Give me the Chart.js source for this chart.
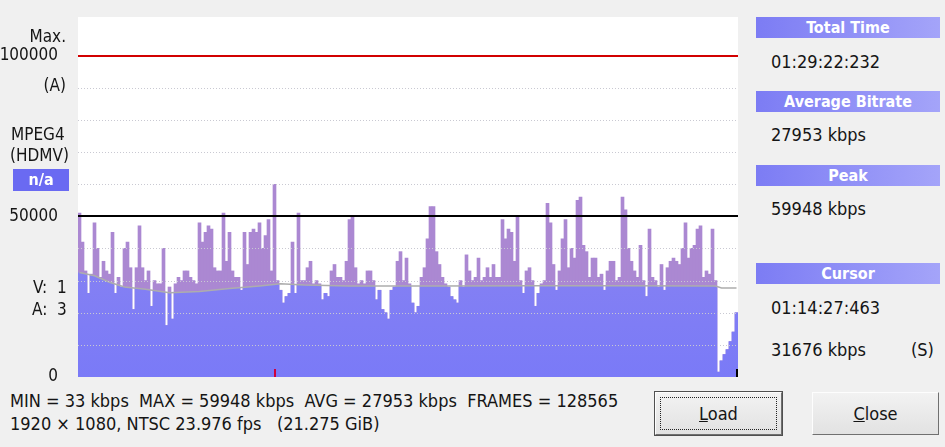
<!DOCTYPE html>
<html lang="en">
  <head>
    <title>Bitrate Viewer</title>
    <meta charset="utf-8" />
    <script src="https://cdn.jsdelivr.net/npm/chart.js"></script>
    <style>
      body {
        margin: 0;
        width: 945px;
        height: 447px;
        overflow: hidden;
        background: #f0f0f0;
        font-family: "DejaVu Sans Condensed", "DejaVu Sans", sans-serif;
        color: #151515;
      }
      .chart-box {
        position: absolute;
        left: 0;
        top: 0;
        width: 740px;
        height: 390px;
      }
      .lbl {
        position: absolute;
        font-size: 17px;
        line-height: 20px;
        white-space: pre;
      }
      .rp {
        font-size: 18px;
      }
      .r {
        text-align: right;
        right: 879px;
      }
      .na {
        position: absolute;
        left: 13px;
        top: 169px;
        width: 56px;
        height: 22px;
        background: #6a6af2;
        color: #fff;
        font-weight: bold;
        font-size: 16px;
        line-height: 22px;
        text-align: center;
      }
      .hdr {
        position: absolute;
        left: 756px;
        width: 184px;
        height: 21px;
        background: linear-gradient(to right, #7c7cf4, #a4a4f9);
        color: #fff;
        font-weight: bold;
        font-size: 16px;
        line-height: 21px;
        text-align: center;
      }
      .btn {
        position: absolute;
        top: 392px;
        width: 125px;
        height: 41px;
        background: linear-gradient(#f2f2f2, #e2e2e2);
        border: 1px solid;
        border-color: #fdfdfd #707070 #707070 #fdfdfd;
        font-size: 18px;
        line-height: 41px;
        text-align: center;
      }
      .btn.def {
        box-shadow: 0 0 0 1px #505050;
      }
      .btn .focus {
        position: absolute;
        left: 4px;
        top: 4px;
        right: 4px;
        bottom: 4px;
        border: 1px dotted #222;
      }
      .foot {
        position: absolute;
        left: 10px;
        font-size: 18px;
        line-height: 22px;
        white-space: pre;
      }
    </style>
  </head>
  <body>
    <div class="chart-box"><canvas id="rate"></canvas></div>

    <!-- left side labels -->
    <div class="lbl r" style="top: 26px">Max.</div>
    <div class="lbl r" style="top: 75px">(A)</div>
    <div class="lbl" style="left: 11px; top: 124px">MPEG4</div>
    <div class="lbl" style="left: 10px; top: 145px">(HDMV)</div>
    <div class="na">n/a</div>
    <div class="lbl" style="left: 33px; top: 277px">V:  1</div>
    <div class="lbl" style="left: 32px; top: 299px">A:  3</div>

    <!-- right side panel -->
    <div class="hdr" style="top: 17px">Total Time</div>
    <div class="lbl rp" style="left: 771px; top: 52px">01:29:22:232</div>
    <div class="hdr" style="top: 91px">Average Bitrate</div>
    <div class="lbl rp" style="left: 771px; top: 125px">27953 kbps</div>
    <div class="hdr" style="top: 165px">Peak</div>
    <div class="lbl rp" style="left: 771px; top: 199px">59948 kbps</div>
    <div class="hdr" style="top: 263px">Cursor</div>
    <div class="lbl rp" style="left: 771px; top: 298px">01:14:27:463</div>
    <div class="lbl rp" style="left: 771px; top: 340px">31676 kbps</div>
    <div class="lbl rp" style="left: 911px; top: 340px">(S)</div>

    <!-- bottom info + buttons -->
    <div class="foot" style="top: 390px">MIN = 33 kbps  MAX = 59948 kbps  AVG = 27953 kbps  FRAMES = 128565</div>
    <div class="foot" style="top: 413px">1920 × 1080, NTSC 23.976 fps   (21.275 GiB)</div>
    <div class="btn def" style="left: 655px"><span class="focus"></span><u>L</u>oad</div>
    <div class="btn" style="left: 812px"><u>C</u>lose</div>

    <script>
      // bitrate per slice (kbps)
      const bitrate = [
        51000, 42000, 33000, 26000, 32000, 48000, 40000, 31000, 36000, 33000,
        32000, 45000, 26000, 31000, 28000, 40000, 42000, 34000, 21000, 34000,
        47000, 34000, 30000, 33000, 22000, 30000, 29000, 29000, 40000, 16000,
        28000, 18000, 29000, 31000, 30000, 33000, 33000, 31000, 30000, 29000,
        48000, 42000, 45000, 47000, 46000, 34000, 33000, 33000, 51000, 36000,
        45000, 33000, 31000, 31000, 27000, 45000, 35000, 45000, 46000, 45000,
        48000, 40000, 44000, 49000, 33000, 59948, 30000, 27000, 23000, 25000,
        26000, 42000, 26000, 51000, 30000, 30000, 34000, 36000, 29000, 30000,
        29000, 24000, 26000, 25000, 33000, 35000, 31000, 31000, 30000, 36000,
        49000, 50000, 34000, 29000, 30000, 29000, 33000, 33000, 30000, 24000,
        27000, 21000, 20000, 18000, 27000, 28000, 36000, 39000, 30000, 37000,
        29000, 23000, 20000, 22000, 31000, 34000, 43000, 53000, 53000, 39000,
        35000, 31000, 29000, 28000, 25000, 24000, 23000, 30000, 28000, 38000,
        33000, 30000, 31000, 37000, 30000, 31000, 34000, 31000, 35000, 31000,
        31000, 49000, 43000, 46000, 45000, 36000, 50000, 30000, 26000, 33000,
        34000, 30000, 22000, 26000, 29000, 30000, 54000, 48000, 35000, 27000,
        33000, 43000, 49000, 34000, 40000, 37000, 55000, 56000, 41000, 39000,
        31000, 37000, 37000, 31000, 32000, 27000, 33000, 36000, 36000, 30000,
        31000, 56000, 52000, 40000, 36000, 33000, 31000, 41000, 30000, 25000,
        46000, 31000, 30000, 28000, 35000, 27000, 34000, 36000, 37000, 36000,
        35000, 40000, 48000, 37000, 40000, 41000, 46000, 47000, 31000, 33000,
        32000, 46000, 30000, 1500, 5000, 7000, 8500, 11000, 14000, 20000,
      ];
      const slices = bitrate.map((v, i) => i);

      // running average line (gray), only where it was read
      const avgAt = [0, 5, 10, 15, 22, 30, 40, 50, 60, 67, 75, 90, 120, 150, 180, 212, 214, 219];
      const avgKbps = [
        32500, 31500, 29500, 28000, 27300, 26200, 26600, 27500, 28300, 29000,
        28600, 28300, 28300, 28400, 28400, 28300, 27700, 27700,
      ];

      // y axis: dotted grid every 10000, labels only on three of them
      const yTicks = [0, 10000, 20000, 30000, 40000, 50000, 60000, 70000, 80000, 90000, 100000];
      const yLabels = [0, 50000, 100000];
      const refLines = [100000, 50000];
      const cursorSlice = 65;

      const refColors = { 100000: "#d20000", 50000: "#000000" };

      // white plot background, grid over the bars, solid max/50000 lines, cursor marks
      const decor = {
        id: "decor",
        beforeDraw(chart) {
          const { ctx, chartArea: a } = chart;
          ctx.save();
          ctx.fillStyle = "#ffffff";
          ctx.fillRect(a.left, a.top, a.right - a.left, a.bottom - a.top);
          ctx.restore();
        },
        // blue part of the bars only below the average line
        beforeDatasetDraw(chart, args) {
          if (args.index !== 2) return;
          const { ctx, chartArea: a } = chart;
          const pts = chart.getDatasetMeta(0).data;
          ctx.save();
          ctx.beginPath();
          ctx.moveTo(a.left, a.bottom);
          ctx.lineTo(a.left, pts[0].y);
          pts.forEach((p) => ctx.lineTo(p.x, p.y));
          ctx.lineTo(a.right, pts[pts.length - 1].y);
          ctx.lineTo(a.right, a.bottom);
          ctx.closePath();
          ctx.clip();
        },
        afterDatasetDraw(chart, args) {
          if (args.index === 2) chart.ctx.restore();
        },
        afterDatasetsDraw(chart) {
          const { ctx, chartArea: a, scales } = chart;
          ctx.save();
          // dotted grid
          ctx.lineWidth = 1;
          ctx.setLineDash([1, 2]);
          ctx.strokeStyle = "#c9c9d2";
          yTicks.forEach((v) => {
            if (v === 0 || refLines.includes(v)) return;
            const y = Math.round(scales.y.getPixelForValue(v)) + 0.5;
            ctx.beginPath();
            ctx.moveTo(a.left, y);
            ctx.lineTo(a.right, y);
            ctx.stroke();
          });
          ctx.setLineDash([]);
          ctx.lineWidth = 2;
          refLines.forEach((v) => {
            const y = Math.round(scales.y.getPixelForValue(v));
            ctx.strokeStyle = refColors[v];
            ctx.beginPath();
            ctx.moveTo(a.left, y);
            ctx.lineTo(a.right, y);
            ctx.stroke();
          });
          // cursor tick
          const cx = Math.round(scales.x.getPixelForValue(cursorSlice));
          ctx.fillStyle = "#d0003a";
          ctx.fillRect(cx - 1, a.bottom - 8, 2, 8);
          // end tick
          ctx.fillStyle = "#000";
          ctx.fillRect(a.right - 2, a.bottom - 8, 2, 8);
          ctx.restore();
        },
      };

      new Chart(document.getElementById("rate"), {
        type: "bar",
        data: {
          labels: slices,
          datasets: [
            {
              type: "line",
              data: avgAt.map((x, i) => ({ x: x, y: avgKbps[i] })),
              borderColor: "#adadad",
              borderWidth: 1.5,
              pointRadius: 0,
              tension: 0,
              order: 0,
            },
            {
              data: bitrate,
              backgroundColor: "#ab88d2",
              barPercentage: 1,
              categoryPercentage: 1,
              grouped: false,
              order: 2,
            },
            {
              data: bitrate,
              backgroundColor: (c) => {
                const a = c.chart.chartArea;
                if (!a) return "#8580f3";
                const g = c.chart.ctx.createLinearGradient(0, a.top + 150, 0, a.bottom);
                g.addColorStop(0, "#8e86ef");
                g.addColorStop(1, "#7a7af7");
                return g;
              },
              barPercentage: 1,
              categoryPercentage: 1,
              grouped: false,
              order: 1,
            },
          ],
        },
        options: {
          responsive: true,
          maintainAspectRatio: false,
          animation: false,
          events: [],
          layout: { padding: { top: 17, right: 2, bottom: 13, left: 0 } },
          plugins: { legend: { display: false }, tooltip: { enabled: false } },
          scales: {
            x: { display: false },
            y: {
              min: 0,
              max: 112000,
              border: { display: false },
              grid: { display: false },
              ticks: {
                autoSkip: false,
                padding: 12,
                color: "#151515",
                font: { family: "'DejaVu Sans Condensed', 'DejaVu Sans'", size: 17 },
                callback: (v) => (yLabels.includes(v) ? String(v) : ""),
              },
              afterBuildTicks: (s) => {
                s.ticks = yTicks.map((v) => ({ value: v }));
              },
              afterFit: (s) => {
                s.width = 78;
                s.paddingTop = 0;
                s.paddingBottom = 0;
              },
            },
          },
        },
        plugins: [decor],
      });
    </script>
  </body>
</html>
